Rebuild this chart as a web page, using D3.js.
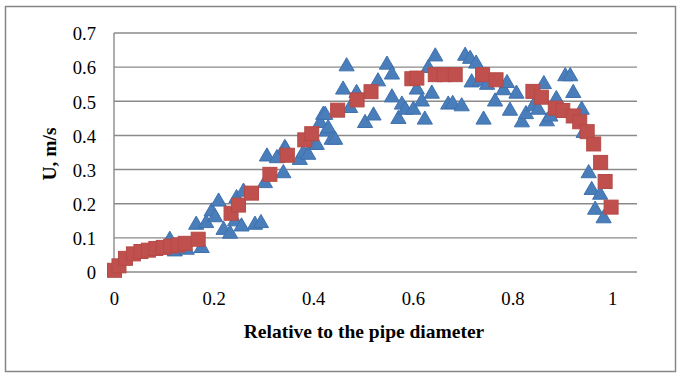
<!DOCTYPE html>
<html><head><meta charset="utf-8">
<script src="https://cdn.jsdelivr.net/npm/d3@7"></script>
<style>body{margin:0;background:#fff}svg{display:block}text{font-family:"Liberation Serif","Times New Roman",serif;fill:#000}</style>
</head><body><svg id="c" width="679" height="376"></svg>
<script>
const xTicks=[0,0.2,0.4,0.6,0.8,1];
const yTicks=[0,0.1,0.2,0.3,0.4,0.5,0.6,0.7];
const xTitle="Relative to the pipe diameter";
const yTitle="U, m/s";
// Series 1 (blue triangles)
const triX=[0.112,0.122,0.146,0.165,0.176,0.185,0.196,0.203,0.210,0.220,0.233,0.243,0.246,0.256,0.260,0.283,0.295,0.303,0.307,0.327,0.340,0.343,0.345,0.373,0.380,0.390,0.400,0.407,0.414,0.420,0.424,0.427,0.430,0.437,0.444,0.460,0.467,0.474,0.487,0.504,0.521,0.530,0.548,0.558,0.558,0.571,0.578,0.585,0.601,0.608,0.618,0.624,0.631,0.638,0.645,0.671,0.680,0.698,0.705,0.715,0.718,0.727,0.735,0.742,0.749,0.765,0.782,0.789,0.795,0.808,0.819,0.827,0.842,0.852,0.863,0.869,0.876,0.888,0.906,0.916,0.922,0.939,0.943,0.953,0.959,0.966,0.976,0.983];
const triY=[0.094,0.060,0.065,0.138,0.070,0.143,0.177,0.160,0.206,0.123,0.112,0.148,0.216,0.133,0.235,0.138,0.143,0.260,0.338,0.333,0.289,0.363,0.358,0.328,0.348,0.343,0.372,0.372,0.436,0.460,0.460,0.411,0.421,0.387,0.387,0.534,0.602,0.480,0.524,0.436,0.458,0.558,0.607,0.578,0.511,0.448,0.490,0.475,0.475,0.534,0.499,0.446,0.597,0.522,0.631,0.490,0.492,0.485,0.633,0.624,0.555,0.610,0.558,0.446,0.548,0.499,0.532,0.553,0.472,0.522,0.438,0.462,0.485,0.475,0.550,0.441,0.455,0.506,0.573,0.573,0.524,0.475,0.407,0.289,0.240,0.182,0.226,0.157];
// Series 2 (red squares)
const sqX=[0.001,0.010,0.023,0.039,0.054,0.069,0.084,0.099,0.114,0.129,0.143,0.169,0.235,0.250,0.276,0.313,0.348,0.383,0.397,0.449,0.488,0.516,0.598,0.608,0.645,0.663,0.685,0.740,0.767,0.841,0.858,0.886,0.901,0.922,0.935,0.950,0.963,0.977,0.986,0.998];
const sqY=[0.005,0.018,0.040,0.053,0.060,0.064,0.069,0.072,0.076,0.079,0.084,0.096,0.172,0.196,0.231,0.286,0.342,0.387,0.405,0.474,0.504,0.528,0.566,0.568,0.578,0.578,0.578,0.578,0.563,0.529,0.512,0.480,0.473,0.457,0.440,0.411,0.375,0.321,0.265,0.190];

const FONT="'Liberation Serif','Times New Roman',serif";
const svg=d3.select("#c");
svg.append("rect").attr("x",5.5).attr("y",6.5).attr("width",670).attr("height",365)
  .attr("fill","#fff").attr("stroke","#868686").attr("stroke-width",1.5);
const x=d3.scaleLinear().domain([0,1.05]).range([114,637]);
const y=d3.scaleLinear().domain([0,0.7]).range([272,33]);
const grid="#8a8a8a";
svg.append("g").selectAll("line").data(yTicks).join("line")
  .attr("x1",x(0)).attr("x2",x(1.05)).attr("y1",d=>y(d)).attr("y2",d=>y(d))
  .attr("stroke",grid).attr("stroke-width",1.4);
svg.append("line").attr("x1",x(0)).attr("x2",x(0)).attr("y1",y(0)).attr("y2",y(0.7))
  .attr("stroke",grid).attr("stroke-width",1.4);
const yAxis=d3.axisLeft(y).tickValues(yTicks).tickSize(0).tickPadding(18).tickFormat(d=>d===0?"0":d3.format(".1f")(d));
const gy=svg.append("g").attr("transform",`translate(${x(0)},0)`).call(yAxis)
  .attr("font-family",FONT).attr("font-size",18.67);
gy.select(".domain").remove();
gy.selectAll("text").attr("fill","#000").attr("dy","0.36em");
const xAxis=d3.axisBottom(x).tickValues(xTicks).tickSize(0).tickPadding(20).tickFormat(d=>d===0||d===1?String(d):d3.format(".1f")(d));
const gx=svg.append("g").attr("transform",`translate(0,${y(0)})`).call(xAxis)
  .attr("font-family",FONT).attr("font-size",18.67);
gx.select(".domain").remove();
gx.selectAll("text").attr("fill","#000");
svg.append("text").attr("x",364).attr("y",338).attr("text-anchor","middle")
  .attr("font-family",FONT).attr("font-size",19.5).attr("font-weight","bold").text(xTitle);
svg.append("text").attr("transform","translate(56,154) rotate(-90)").attr("text-anchor","middle")
  .attr("font-family",FONT).attr("font-size",19.5).attr("font-weight","bold").text(yTitle);
const tri=d3.symbol().type(d3.symbolTriangle).size(100);
svg.append("g").selectAll("path").data(triX.map((v,i)=>[v,triY[i]])).join("path")
  .attr("d",tri).attr("transform",d=>`translate(${x(d[0])},${y(d[1])})`)
  .attr("fill","#4a7ebb").attr("stroke","#3f71ad").attr("stroke-width",1);
svg.append("g").selectAll("rect").data(sqX.map((v,i)=>[v,sqY[i]])).join("rect")
  .attr("x",d=>x(d[0])-7).attr("y",d=>y(d[1])-7).attr("width",14).attr("height",14)
  .attr("fill","#c0504d").attr("stroke","#b54a47").attr("stroke-width",1);
</script></body></html>
